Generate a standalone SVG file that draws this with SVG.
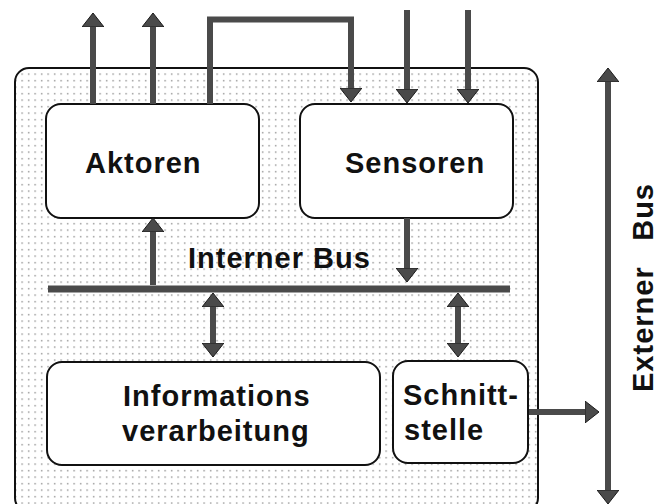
<svg xmlns="http://www.w3.org/2000/svg" width="662" height="504" viewBox="0 0 662 504">
  <defs>
    <!-- sparse dot screen used as the fill of the device housing -->
    <pattern id="dots" width="6.5" height="6.5" patternUnits="userSpaceOnUse">
      <rect x="2" y="2" width="1.3" height="1.3" fill="#7a7a7a"/>
    </pattern>
    <!-- arrowhead: base sits on the line end, tip 14px further on -->
    <marker id="head" viewBox="0 0 14 22" refX="0" refY="11" markerWidth="14" markerHeight="22" markerUnits="userSpaceOnUse" orient="auto-start-reverse">
      <path d="M0,0 L14,11 L0,22 Z" fill="#4a4a4a" stroke="#1a1a1a" stroke-width="1"/>
    </marker>
  </defs>
  <style>
    .box { fill: #ffffff; stroke: #111111; stroke-width: 2; }
    .shaft { fill: none; stroke: #4a4a4a; stroke-width: 6; }
    .lbl { font-family: "Liberation Sans", Arial, Helvetica, sans-serif; font-weight: bold; font-size: 29px; letter-spacing: 1px; fill: #111111; }
  </style>

  <rect width="662" height="504" fill="#ffffff"/>

  <!-- device housing -->
  <g id="housing">
    <rect x="15" y="68" width="523" height="444" rx="14" ry="14" fill="url(#dots)" stroke="#111111" stroke-width="2"/>
  </g>

  <g id="aktoren">
    <rect class="box" x="46" y="104" width="213" height="114" rx="15" ry="15"/>
    <text class="lbl" x="85" y="173">Aktoren</text>
  </g>

  <g id="sensoren">
    <rect class="box" x="300" y="104" width="213" height="114" rx="15" ry="15"/>
    <text class="lbl" x="345" y="173">Sensoren</text>
  </g>

  <g id="informationsverarbeitung">
    <rect class="box" x="47" y="362" width="333" height="103" rx="15" ry="15"/>
    <text class="lbl" x="123" y="406">Informations</text>
    <text class="lbl" x="122" y="441">verarbeitung</text>
  </g>

  <g id="schnittstelle">
    <rect class="box" x="393" y="361" width="135" height="102" rx="15" ry="15"/>
    <text class="lbl" x="403" y="405">Schnitt-</text>
    <text class="lbl" x="404" y="440">stelle</text>
  </g>

  <g id="interner-bus">
    <line x1="48" y1="289" x2="510" y2="289" stroke="#4a4a4a" stroke-width="7"/>
    <text class="lbl" x="188" y="268">Interner Bus</text>
  </g>

  <g id="externer-bus">
    <line class="shaft" x1="608" y1="82" x2="608" y2="490" stroke-width="5" marker-start="url(#head)" marker-end="url(#head)"/>
    <text class="lbl" transform="translate(653,392) rotate(-90)">Externer</text>
    <text class="lbl" text-anchor="end" transform="translate(653,183) rotate(-90)">Bus</text>
  </g>

  <!-- connectors -->
  <g id="connectors">
    <!-- Aktoren outputs -->
    <line class="shaft" x1="93" y1="104" x2="93" y2="27" marker-end="url(#head)"/>
    <line class="shaft" x1="153" y1="104" x2="153" y2="27" marker-end="url(#head)"/>
    <!-- feedback loop Aktoren to Sensoren -->
    <path class="shaft" d="M210,104 V19.5 H351 V88" stroke-linejoin="miter" marker-end="url(#head)"/>
    <!-- Sensoren inputs -->
    <line class="shaft" x1="407" y1="10" x2="407" y2="89" marker-end="url(#head)"/>
    <line class="shaft" x1="468" y1="10" x2="468" y2="89" marker-end="url(#head)"/>
    <!-- internal bus to Aktoren -->
    <line class="shaft" x1="153" y1="285" x2="153" y2="232" marker-end="url(#head)"/>
    <!-- Sensoren to internal bus -->
    <line class="shaft" x1="407" y1="218" x2="407" y2="268" marker-end="url(#head)"/>
    <!-- bus to Informationsverarbeitung, both ways -->
    <line class="shaft" x1="213" y1="307" x2="213" y2="343" marker-start="url(#head)" marker-end="url(#head)"/>
    <!-- bus to Schnittstelle, both ways -->
    <line class="shaft" x1="458" y1="307" x2="458" y2="343" marker-start="url(#head)" marker-end="url(#head)"/>
    <!-- Schnittstelle to external bus -->
    <line class="shaft" x1="529" y1="412" x2="585" y2="412" marker-end="url(#head)"/>
  </g>
</svg>
